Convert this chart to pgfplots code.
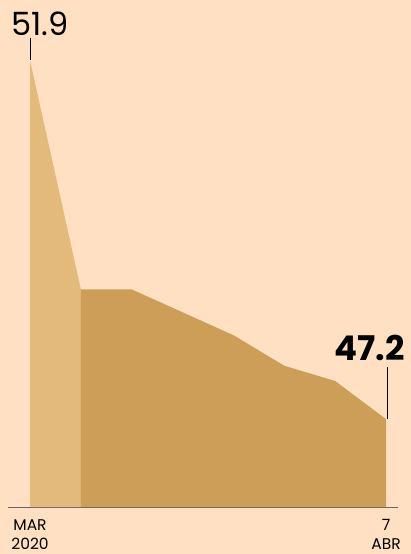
\documentclass[border=0pt]{standalone}
\usepackage{pgfplots}
\pgfplotsset{compat=1.18}
\usepackage{fontspec}
\setmainfont{Poppins}
\definecolor{bg}{HTML}{FFE0C2}
\definecolor{lighttan}{HTML}{E3B97C}
\definecolor{darktan}{HTML}{CC9E57}
\begin{document}
\begin{tikzpicture}[x=1pt,y=1pt]
\fill[bg] (0,0) rectangle (411,554);
\begin{axis}[
    at={(8pt,47pt)}, anchor=south west,
    scale only axis, width=390pt, height=507pt,
    xmin=-0.433, xmax=7.236, ymin=46.05, ymax=52.69,
    axis x line=bottom, axis y line=none,
    axis line style={draw=gray!80!black, -},
    xtick={0,7}, xticklabels={{MAR\\2020},{7\\ABR}},
    tick label style={font=\fontsize{15.5}{19}\selectfont},
    xticklabel style={align=center, inner sep=0pt, yshift=-12pt},
    major tick length=0pt, ytick=\empty,
    clip=false]
  % first month, lighter
  \addplot[draw=none, fill=lighttan] coordinates {
      (0,46.05) (0,51.9) (1,48.9) (1,46.05)} -- cycle;
  % following days
  \addplot[draw=none, fill=darktan] coordinates {
      (1,46.05) (1,48.9) (2,48.9) (3,48.6) (4,48.3)
      (5,47.9) (6,47.7) (7,47.2) (7,46.05)} -- cycle;
  \draw[black, thin] (axis cs:0,52.19) -- (axis cs:0,51.9);
  \draw[black, thin] (axis cs:7.02,47.88) -- (axis cs:7.02,47.2);
  \node[anchor=base, inner sep=0pt, font=\fontsize{32}{32}\selectfont]
      at (axis cs:0.19,52.23) {51.9};
  \node[anchor=base, inner sep=0pt, font=\fontsize{34}{34}\selectfont\bfseries]
      at (axis cs:6.68,47.97) {47.2};
\end{axis}
\end{tikzpicture}
\end{document}
